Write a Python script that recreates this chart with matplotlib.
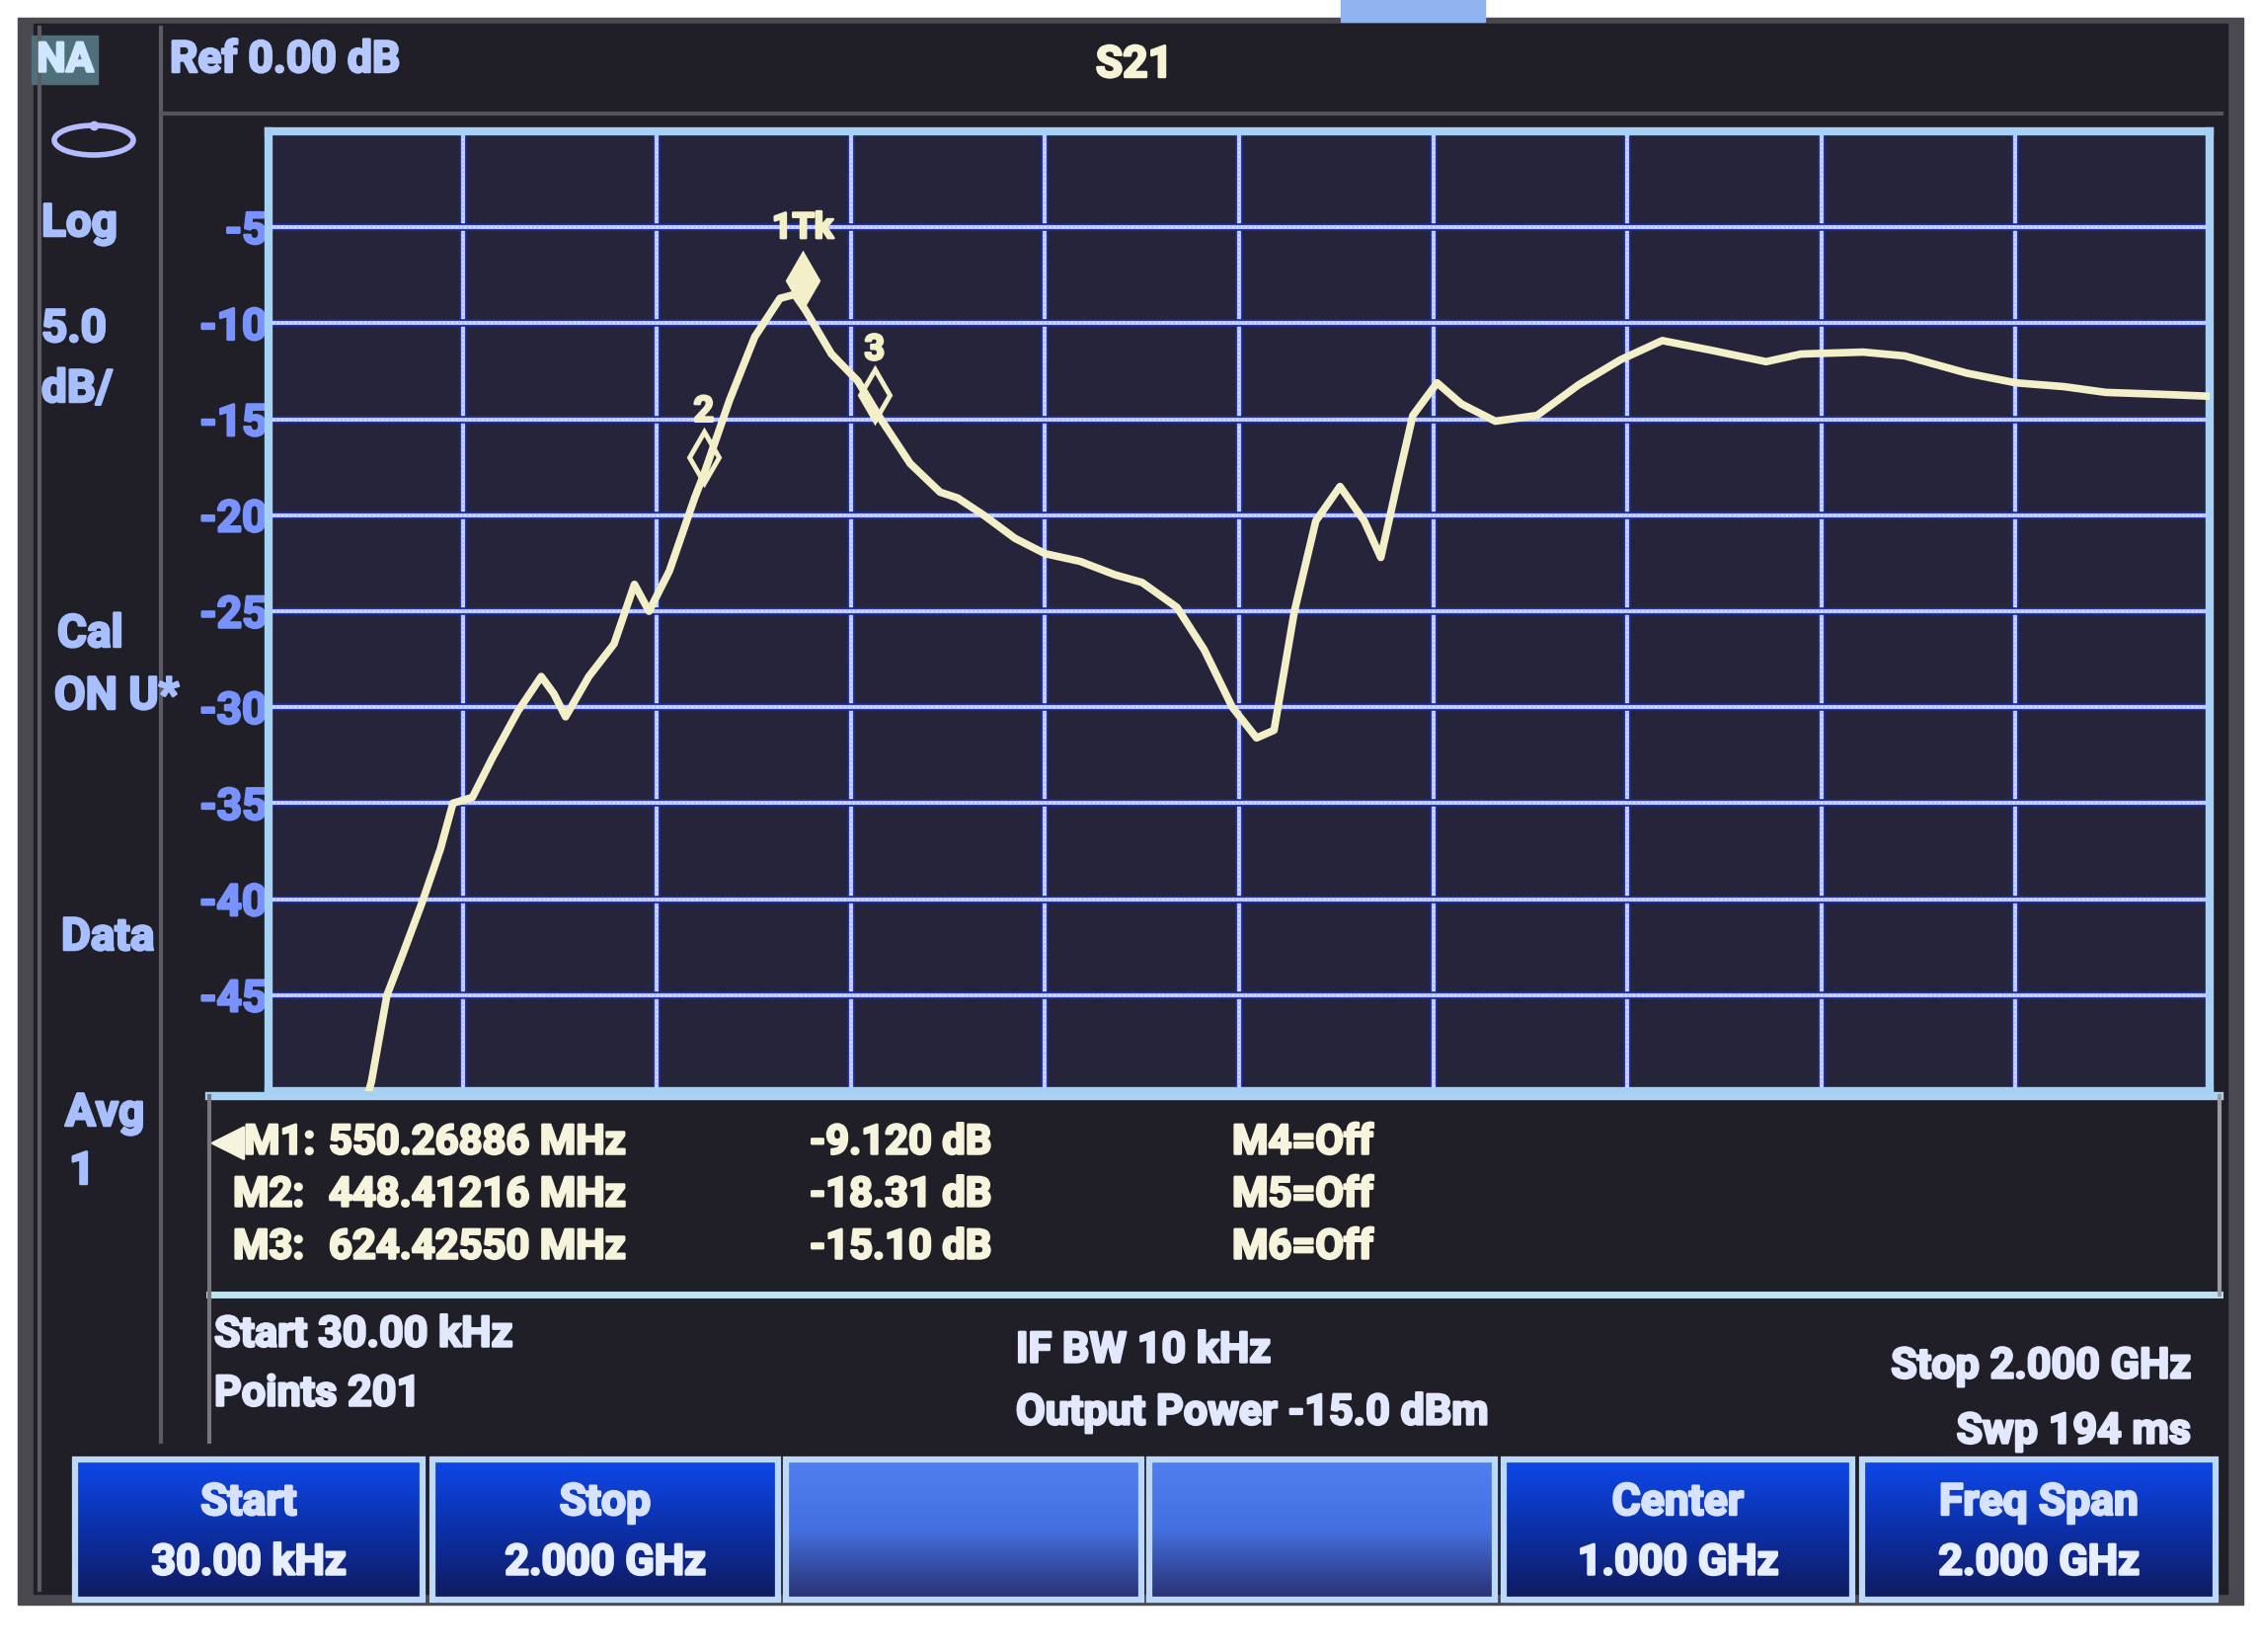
import numpy as np
import matplotlib.pyplot as plt
import matplotlib.patheffects as pe
from matplotlib.patches import Rectangle, Ellipse
from matplotlib.colors import LinearSegmentedColormap
from matplotlib.transforms import offset_copy

# S21 trace (MHz, dB)
freq_mhz = [98, 106, 122, 138, 158, 177, 190, 210, 231, 257, 281, 294, 306, 330,
            356, 377, 392, 413, 439, 449, 475, 501, 527, 542, 553, 580, 607, 631,
            661, 692, 710, 737, 769, 800, 836, 872, 900, 936, 964, 993, 1018, 1036,
            1057, 1079, 1104, 1129, 1146, 1164, 1179, 1204, 1229, 1264, 1307, 1350,
            1393, 1436, 1486, 1543, 1579, 1643, 1686, 1750, 1800, 1850, 1893, 1950,
            2000]
s21_db = [-51.0, -49.5, -45.0, -42.9, -40.2, -37.4, -35.0, -34.7, -32.6, -30.2,
          -28.4, -29.3, -30.5, -28.4, -26.7, -23.6, -25.0, -22.9, -19.1, -17.8,
          -14.0, -10.7, -8.7, -8.5, -9.3, -11.6, -13.0, -15.0, -17.3, -18.8,
          -19.1, -20.0, -21.2, -22.0, -22.4, -23.1, -23.5, -24.8, -27.0, -30.0,
          -31.6, -31.2, -25.0, -20.3, -18.5, -20.3, -22.2, -18.1, -14.8, -13.1,
          -14.2, -15.1, -14.8, -13.2, -11.9, -10.9, -11.4, -12.0, -11.6, -11.5,
          -11.7, -12.6, -13.1, -13.3, -13.6, -13.7, -13.8]

# markers
marker_labels = ["1Tk", "2", "3"]
marker_freq = [550.26886, 448.41216, 624.42550]
marker_db = [-9.120, -18.31, -15.10]

y_ticks = [-5, -10, -15, -20, -25, -30, -35, -40, -45]
x_grid = [200, 400, 600, 800, 1000, 1200, 1400, 1600, 1800]

# marker readout table
row_names = ["\u25c0M1:", "M2:", "M3:"]
row_freqs = ["550.26886 MHz", "448.41216 MHz", "624.42550 MHz"]
row_vals = ["-9.120 dB", "-18.31 dB", "-15.10 dB"]
row_off = ["M4=Off", "M5=Off", "M6=Off"]

left_panel = ["Log", "5.0", "dB/", "Cal", "ON U*", "Data", "Avg", "1"]

key_top = ["Start", "Stop", "", "", "Center", "Freq Span"]
key_bottom = ["30.00 kHz", "2.000 GHz", "", "", "1.000 GHz", "2.000 GHz"]

FONT = ["Roboto", "DejaVu Sans"]
W, H = 2289, 1673


def fat(color):
    # screen text in the photo looks heavier than a plain bold
    return [pe.withStroke(linewidth=1.8, foreground=color)]


fig = plt.figure(figsize=(W / 100, H / 100), dpi=100, facecolor="white")

# background layer in pixel coordinates
bg = fig.add_axes([0, 0, 1, 1])
bg.set_xlim(0, W)
bg.set_ylim(H, 0)
bg.axis("off")

bg.add_patch(Rectangle((18, 18), 2254, 1607, color="#4a494f"))
bg.add_patch(Rectangle((34, 24), 2222, 1590, color="#201f27"))
bg.add_patch(Rectangle((1358, 0), 146, 22, color="#8fb4f0"))

# panel separators
bg.plot([40, 40], [28, 1610], color="#5c5b63", lw=3)
bg.plot([163, 163], [28, 1460], color="#5c5b63", lw=3)
bg.plot([163, 2250], [115, 115], color="#55545c", lw=3)

# NA box + icon
bg.add_patch(Rectangle((32, 36), 67, 49, color="#4f6f7a"))
bg.text(66, 61, "NA", color="#cfe6ff", fontsize=30, fontweight="bold",
        family=FONT, ha="center", va="center", path_effects=fat("#cfe6ff"))
bg.add_patch(Ellipse((95, 142), 80, 30, fill=False, ec="#b4bcff", lw=4))
bg.plot([95], [127], marker="o", ms=6, color="#b4bcff")

left_y = [226, 333, 394, 642, 705, 949, 1127, 1186]
left_x = [42, 42, 42, 58, 55, 62, 66, 70]
for t, x, y in zip(left_panel, left_x, left_y):
    bg.text(x, y, t, color="#a8bfff", fontsize=33, fontweight="bold",
            family=FONT, ha="left", va="center", path_effects=fat("#a8bfff"))

bg.text(172, 61, "Ref 0.00 dB", color="#b4c8ff", fontsize=32, fontweight="bold",
        family=FONT, ha="left", va="center", path_effects=fat("#b4c8ff"))
bg.text(1149, 66, "S21", color="#f6f3d6", fontsize=32, fontweight="bold",
        family=FONT, ha="center", va="center", path_effects=fat("#f6f3d6"))

# marker table frame
bg.plot([212, 2248], [1110, 1110], color="#a9d3f3", lw=6)
bg.plot([212, 2248], [1311, 1311], color="#bfe2f0", lw=5)
bg.plot([212, 212], [1110, 1460], color="#77767e", lw=3)
bg.plot([2248, 2248], [1110, 1311], color="#9a9aa2", lw=3)

row_y = [1157, 1210, 1263]
for n, f, v, o, y in zip(row_names, row_freqs, row_vals, row_off, row_y):
    kw = dict(color="#f6f4dc", fontsize=30, fontweight="bold", family=FONT,
              va="center", path_effects=fat("#f6f4dc"))
    bg.text(215 if n.startswith("\u25c0") else 236, y, n, ha="left", **kw)
    bg.text(333, y, f, ha="left", **kw)
    bg.text(820, y, v, ha="left", **kw)
    bg.text(1248, y, o, ha="left", **kw)

info = dict(color="#e2e9ff", fontsize=31, fontweight="bold", family=FONT,
            va="center", path_effects=fat("#e2e9ff"))
bg.text(217, 1352, "Start 30.00 kHz", ha="left", **info)
bg.text(217, 1412, "Points 201", ha="left", **info)
bg.text(1029, 1368, "IF BW 10 kHz", ha="left", **info)
bg.text(1029, 1431, "Output Power -15.0 dBm", ha="left", **info)
bg.text(2219, 1384, "Stop 2.000 GHz", ha="right", **info)
bg.text(2219, 1450, "Swp 194 ms", ha="right", **info)

# softkeys
key_x = [(76, 428), (438, 788), (796, 1156), (1164, 1514), (1523, 1876), (1886, 2244)]
dark_key = LinearSegmentedColormap.from_list("k1", ["#0e48ea", "#0c30a8", "#111a5e"])
pale_key = LinearSegmentedColormap.from_list("k2", ["#4f80f0", "#4470e0", "#2a3070"])
grad = np.linspace(0, 1, 100).reshape(-1, 1)
for (x0, x1), t1, t2 in zip(key_x, key_top, key_bottom):
    cm = pale_key if t1 == "" else dark_key
    bg.imshow(grad, extent=(x0, x1, 1620, 1478), cmap=cm, aspect="auto", zorder=2)
    bg.add_patch(Rectangle((x0, 1478), x1 - x0, 142, fill=False, ec="#bcd8fa",
                           lw=4.5, zorder=3))
    if t1:
        bg.text((x0 + x1) / 2, 1522, t1, color="#d6e2ff", fontsize=32,
                fontweight="bold", family=FONT, ha="center", va="center", zorder=4,
                path_effects=fat("#d6e2ff"))
        bg.text((x0 + x1) / 2, 1583, t2, color="#e6eeff", fontsize=31,
                fontweight="bold", family=FONT, ha="center", va="center", zorder=4,
                path_effects=fat("#e6eeff"))
bg.set_xlim(0, W)
bg.set_ylim(H, 0)

# trace area
ax = fig.add_axes([272 / W, 1 - 1105 / H, (2238 - 272) / W, (1105 - 133) / H])
ax.set_facecolor("#25243a")
ax.set_xlim(0, 2000)
ax.set_ylim(-50, 0)
ax.set_xticks(x_grid)
ax.set_xticklabels([])
ax.set_yticks(y_ticks)
ax.set_yticklabels([str(v) for v in y_ticks], color="#7893ff", fontsize=32,
                   fontweight="bold", family=FONT)
for t in ax.get_yticklabels():
    t.set_path_effects(fat("#7893ff"))
ax.tick_params(length=0, pad=1)
for v in x_grid:
    ax.axvline(v, color="#1c2a96", lw=5.5, zorder=1)
    ax.axvline(v, color="#b4c3ff", lw=3, zorder=1)
    ax.axvline(v, color="#e4eaff", lw=1.2, ls=":", zorder=1)
for v in y_ticks:
    ax.axhline(v, color="#1c2a96", lw=5.5, zorder=1)
    ax.axhline(v, color="#b4c3ff", lw=3, zorder=1)
    ax.axhline(v, color="#e4eaff", lw=1.2, ls=":", zorder=1)
for s in ax.spines.values():
    s.set_color("#a6d1f4")
    s.set_linewidth(6)

ax.plot(freq_mhz, s21_db, color="#f3f0c9", lw=5.5, zorder=3,
        solid_joinstyle="round", solid_capstyle="round")

up = offset_copy(ax.transData, fig=fig, y=19, units="points")
for i, (name, f, d) in enumerate(zip(marker_labels, marker_freq, marker_db)):
    lab = offset_copy(ax.transData, fig=fig, y=57 if i == 0 else 52, units="points")
    ax.plot(f, d, marker="d", ms=26, transform=up, zorder=4,
            mfc="#f3f0c9" if i == 0 else "none", mec="#f3f0c9", mew=3.5)
    ax.text(f, d, name, transform=lab, color="#f3f0c9", fontsize=26,
            fontweight="bold", family=FONT, ha="center", va="center", zorder=4,
            path_effects=fat("#f3f0c9"))

fig.savefig("out.png", dpi=100, facecolor="white")
